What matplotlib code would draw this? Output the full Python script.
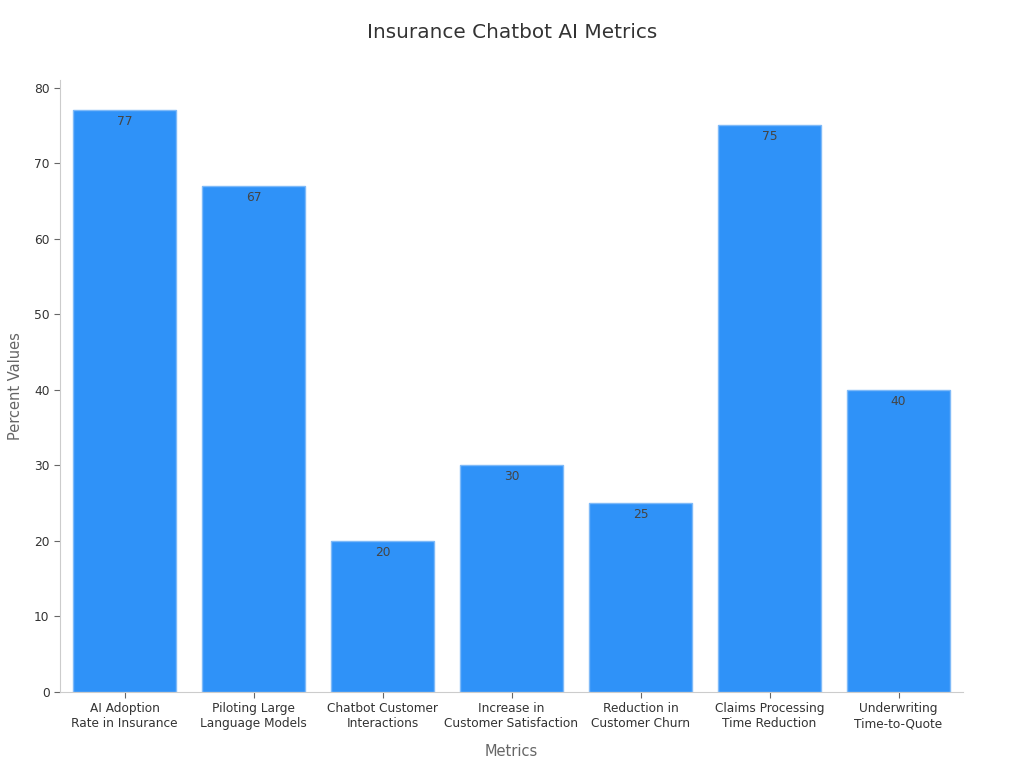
import matplotlib
matplotlib.use('Agg')
import matplotlib.pyplot as plt

# data
metrics = ['AI Adoption\nRate in Insurance', 'Piloting Large\nLanguage Models',
           'Chatbot Customer\nInteractions', 'Increase in\nCustomer Satisfaction',
           'Reduction in\nCustomer Churn', 'Claims Processing\nTime Reduction',
           'Underwriting\nTime-to-Quote']
values = [77, 67, 20, 30, 25, 75, 40]

# settings
bar_color = '#2f92f8'
edge_color = '#7fbaf8'
spine_color = '#cccccc'
text_color = '#333333'
label_color = '#666666'

fig = plt.figure(figsize=(10.24, 7.68), dpi=100)
ax = fig.add_axes([60/1024, 76/768, 903/1024, 612/768])

positions = list(range(len(metrics)))
bars = ax.bar(positions, values, width=0.8, color=bar_color, edgecolor=edge_color, linewidth=1)

for bar, v in zip(bars, values):
    ax.annotate(str(v), (bar.get_x() + bar.get_width()/2, v),
                xytext=(0, -3.5), textcoords='offset points',
                ha='center', va='top', fontsize=8.8, color='#444444')

ax.set_xticks(positions)
ax.set_xticklabels(metrics, fontsize=8.7, color=text_color)
ax.set_xlim(-0.5, 6.5)
ax.set_ylim(0, 81)
ax.set_yticks(range(0, 81, 10))
ax.tick_params(axis='y', labelsize=8.8, colors=text_color, length=4, color=label_color)
ax.tick_params(axis='x', length=4, color=label_color)

for side in ['top', 'right']:
    ax.spines[side].set_visible(False)
for side in ['left', 'bottom']:
    ax.spines[side].set_color(spine_color)

ax.set_xlabel('Metrics', fontsize=10.5, color=label_color, labelpad=10)
ax.set_ylabel('Percent Values', fontsize=10.5, color=label_color, labelpad=8)
fig.suptitle('Insurance Chatbot AI Metrics', fontsize=14.4, color=text_color, y=0.97)

fig.savefig('out.png', dpi=100)
